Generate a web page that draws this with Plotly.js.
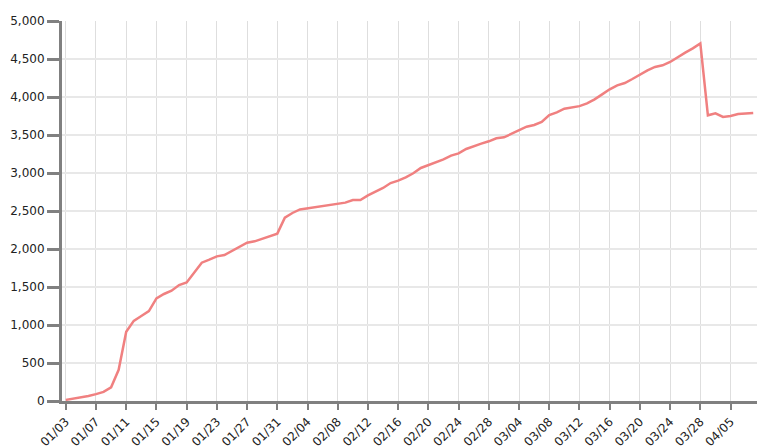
<!DOCTYPE html>
<html>
<head>
<meta charset="utf-8">
<script src="https://cdn.plot.ly/plotly-3.0.1.min.js"></script>
<style>
  html, body { margin: 0; padding: 0; background: #fff; }
  #chart { width: 766px; height: 448px; }
</style>
</head>
<body>
<div id="chart"></div>
<script>
// Categories (dates, MM/DD)
var dates = [
  "01/03","01/04","01/05","01/06","01/07","01/08","01/09","01/10","01/11","01/12",
  "01/13","01/14","01/15","01/16","01/17","01/18","01/19","01/20","01/21","01/22",
  "01/23","01/24","01/25","01/26","01/27","01/28","01/29","01/30","01/31","02/01",
  "02/02","02/03","02/04","02/05","02/06","02/07","02/08","02/09","02/10","02/11",
  "02/12","02/13","02/14","02/15","02/16","02/17","02/18","02/19","02/20","02/21",
  "02/22","02/23","02/24","02/25","02/26","02/27","02/28","03/01","03/02","03/03",
  "03/04","03/05","03/06","03/07","03/08","03/09","03/10","03/11","03/12","03/13",
  "03/14","03/15","03/16","03/17","03/18","03/19","03/20","03/21","03/22","03/23",
  "03/24","03/25","03/26","03/27","03/28","04/02","04/03","04/04","04/05","04/06",
  "04/07","04/08"
];

// Series values
var values = [
  15, 30, 45, 65, 90, 120, 180, 410, 910, 1055,
  1118, 1184, 1351, 1408, 1451, 1526, 1560, 1693, 1820, 1860,
  1903, 1921, 1978, 2026, 2083, 2101, 2136, 2175, 2202, 2412,
  2474, 2520, 2535, 2548, 2561, 2575, 2588, 2610, 2645, 2645,
  2706, 2750, 2803, 2868, 2899, 2943, 2996, 3066, 3101, 3138,
  3180, 3228, 3259, 3316, 3346, 3386, 3417, 3456, 3469, 3513,
  3566, 3609, 3632, 3671, 3763, 3798, 3846, 3866, 3880, 3917,
  3969, 4035, 4101, 4154, 4184, 4237, 4294, 4351, 4395, 4417,
  4461, 4526, 4583, 4640, 4706, 3759, 3785, 3737, 3750, 3776,
  3785, 3789
];

// Tick labels: every 4th category
var xTickLabels = dates.filter(function (d, i) { return i % 4 === 0; });
var yTickValues = [0, 500, 1000, 1500, 2000, 2500, 3000, 3500, 4000, 4500, 5000];

var trace = {
  type: 'scatter',
  mode: 'lines',
  x: dates,
  y: values,
  line: { color: '#f08080', width: 2.5 },
  hoverinfo: 'x+y'
};

var layout = {
  width: 766,
  height: 448,
  margin: { l: 62, r: 9, t: 21, b: 47 },
  paper_bgcolor: '#ffffff',
  plot_bgcolor: '#ffffff',
  showlegend: false,
  font: { family: 'DejaVu Sans, Verdana, sans-serif', size: 12, color: '#222' },
  xaxis: {
    type: 'category',
    categoryorder: 'array',
    categoryarray: dates,
    range: [-0.5, dates.length - 0.5],
    tickmode: 'array',
    tickvals: xTickLabels,
    ticktext: xTickLabels,
    tickangle: -45,
    showgrid: true,
    gridcolor: '#dedede',
    gridwidth: 1,
    showline: true,
    linecolor: '#808080',
    linewidth: 3,
    ticks: 'outside',
    ticklen: 6,
    tickwidth: 2,
    tickcolor: '#808080',
    zeroline: false,
    tickfont: { size: 12, color: '#222' }
  },
  yaxis: {
    range: [0, 5000],
    tickmode: 'array',
    tickvals: yTickValues,
    tickformat: ',d',
    showgrid: true,
    gridcolor: '#e8e8e8',
    gridwidth: 2,
    showline: true,
    linecolor: '#808080',
    linewidth: 3,
    ticks: 'outside',
    ticklen: 12,
    tickwidth: 3,
    tickcolor: '#808080',
    zeroline: false,
    tickfont: { size: 12, color: '#222' }
  }
};

Plotly.newPlot('chart', [trace], layout, { displayModeBar: false, staticPlot: true });
</script>
</body>
</html>
